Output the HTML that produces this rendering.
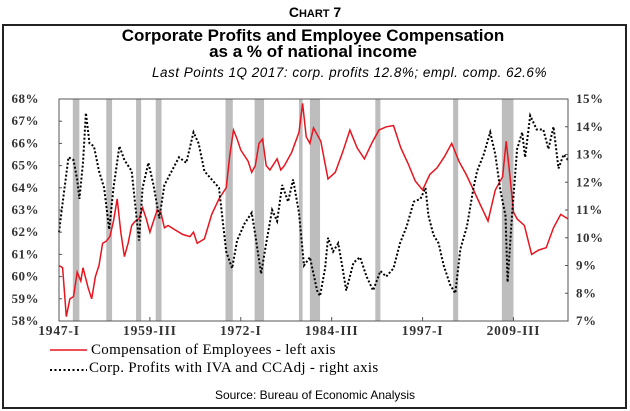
<!DOCTYPE html>
<html><head><meta charset="utf-8"><style>
html,body{margin:0;padding:0;background:#fff;}
svg{display:block;}
</style></head><body>
<svg id="c" width="630" height="411" xmlns="http://www.w3.org/2000/svg">
<text x="315" y="17" text-anchor="middle" font-family="Liberation Sans, sans-serif" font-weight="bold" font-size="14">C<tspan font-size="11">HART</tspan> 7</text>
<rect x="3" y="25" width="623" height="383" fill="none" stroke="#222" stroke-width="2"/>
<text x="313" y="41" text-anchor="middle" font-family="Liberation Sans, sans-serif" font-weight="bold" font-size="17">Corporate Profits and Employee Compensation</text>
<text x="313" y="57" text-anchor="middle" font-family="Liberation Sans, sans-serif" font-weight="bold" font-size="17">as a % of national income</text>
<text x="152" y="77" font-family="Liberation Sans, sans-serif" font-style="italic" font-size="13.5" letter-spacing="0.5">Last Points 1Q 2017: corp. profits 12.8%; empl. comp. 62.6%</text>
<g id="rec"></g>
<g id="axes"></g>
<path id="redline" fill="none" stroke="#e8141e" stroke-width="1.5"/>
<path id="blackline" fill="none" stroke="#000" stroke-width="2" stroke-dasharray="2,2"/>
<rect x="59" y="99" width="509" height="222" fill="none" stroke="#555" stroke-width="1"/>
<line x1="50" y1="350" x2="87" y2="350" stroke="#e8141e" stroke-width="1.5"/>
<text x="91" y="354" font-family="Liberation Serif, serif" font-size="15" letter-spacing="0.3">Compensation of Employees - left axis</text>
<line x1="50" y1="370" x2="87" y2="370" stroke="#000" stroke-width="2" stroke-dasharray="2,2.5"/>
<text x="89" y="372" font-family="Liberation Serif, serif" font-size="15" letter-spacing="0.3">Corp. Profits with IVA and CCAdj  - right axis</text>
<text x="315" y="399" text-anchor="middle" font-family="Liberation Sans, sans-serif" font-size="12">Source: Bureau of Economic Analysis</text>
</svg>
<script>
const compYears=[1947,1947.5,1948,1948.5,1949,1949.5,1950,1950.3,1951,1951.5,1952,1952.5,1953,1953.5,1954,1954.5,1955,1955.5,1956,1956.5,1957,1957.5,1958,1958.5,1959,1959.5,1960,1960.5,1961,1961.5,1962,1963,1964,1965,1965.5,1966,1967,1968,1969,1970,1970.5,1971,1971.5,1972,1973,1973.5,1974,1974.5,1975,1975.5,1976,1977,1977.5,1978,1979,1980,1980.5,1981,1981.5,1982,1983,1984,1985,1986,1987,1988,1989,1990,1991,1992,1993,1994,1995,1996,1997,1998,1999,2000,2001,2002,2003,2004,2005,2006,2007,2008,2008.5,2009,2009.5,2010,2011,2012,2013,2014,2015,2016,2017];
const compValues=[60.5,60.4,58.2,59.0,59.1,60.2,59.8,60.4,59.5,59.0,60.0,60.5,61.5,61.6,61.8,62.5,63.5,62.0,60.9,61.5,62.3,62.5,62.6,63.1,62.6,62.0,62.5,63.0,62.9,62.2,62.3,62.1,61.9,61.8,62.0,61.5,61.7,62.8,63.5,64.0,65.5,66.6,66.2,65.7,65.2,64.7,65.0,66.0,66.2,65.0,64.8,65.3,64.8,65.0,65.6,66.5,67.8,66.3,66.0,66.7,66.1,64.4,64.7,65.6,66.6,65.8,65.3,66.0,66.6,66.75,66.8,65.8,65.1,64.3,63.9,64.6,64.9,65.4,66.0,65.2,64.6,63.9,63.2,62.5,63.9,64.5,66.1,64.6,62.9,62.6,62.3,61.0,61.2,61.3,62.2,62.8,62.6];
const profYears=[1947,1947.5,1948.3,1949,1949.5,1949.8,1950.3,1950.7,1951.2,1951.8,1952.5,1953.2,1953.9,1954.5,1955.3,1956,1957,1958,1958.5,1959.3,1960,1960.8,1961.5,1962.5,1963.5,1964.5,1965.5,1966.2,1967,1968,1969,1970,1970.8,1971.5,1972.5,1973.5,1974,1974.8,1975.5,1976.3,1977,1977.7,1978.5,1979.2,1980,1980.7,1981.5,1982.5,1982.9,1983.6,1984,1984.7,1985.4,1986,1986.5,1987.5,1988.4,1989.3,1990.2,1991.2,1992,1993,1993.9,1994.8,1995.8,1996.7,1997.4,1997.8,1998.5,1999.2,1999.9,2000.8,2001.5,2002.2,2003.1,2004,2004.5,2005.4,2006.3,2007,2007.7,2008.4,2008.7,2009.3,2010,2010.7,2011.1,2011.8,2012.7,2013.6,2014.3,2015,2015.7,2016.4,2017];
const profValues=[10.2,11.25,12.9,12.8,12.1,11.4,12.7,14.5,13.4,13.3,12.4,11.8,10.3,11.8,13.3,12.8,12.4,9.9,11.8,12.7,11.9,10.7,11.9,12.4,12.9,12.7,13.8,13.4,12.4,12.1,11.8,9.5,8.9,9.9,10.5,10.9,10.1,8.7,9.8,11.0,10.6,11.9,11.3,12.1,10.9,9.0,9.3,8.1,7.9,8.9,10.0,9.5,9.8,8.9,8.1,9.1,9.3,8.6,8.1,8.8,8.6,8.9,9.8,10.4,11.3,11.4,11.8,10.8,10.1,9.8,9.0,8.3,8.0,9.6,10.4,11.8,12.4,13.0,13.8,13.0,11.7,10.8,8.4,10.8,13.2,13.8,12.9,14.4,13.9,13.9,13.2,14.0,12.5,13.0,12.8];
const recStart=[1948.9,1953.5,1957.6,1960.3,1969.9,1973.9,1980.0,1981.5,1990.5,2001.2,2007.9];
const recEnd=[1949.8,1954.3,1958.3,1961.1,1970.9,1975.2,1980.5,1982.9,1991.2,2001.9,2009.5];
const leftTicks=[58,59,60,61,62,63,64,65,66,67,68];
const rightTicks=[7,8,9,10,11,12,13,14,15];
const xTickYears=[1947,1959.5,1972,1984.5,1997,2009.5];
const xTickLabels=["1947-I","1959-III","1972-I","1984-III","1997-I","2009-III"];
const X0=59,X1=568,Y0=99,Y1=321;
const xs=y=>X0+(y-1947)/(2017-1947)*(X1-X0);
const yl=v=>Y1-(v-58)/10*(Y1-Y0);
const yr=v=>Y1-(v-7)/8*(Y1-Y0);
const NS='http://www.w3.org/2000/svg';
function mk(tag,attrs,parent,txt){const e=document.createElementNS(NS,tag);for(const k in attrs)e.setAttribute(k,attrs[k]);if(txt!==undefined)e.textContent=txt;parent.appendChild(e);return e;}
const rec=document.getElementById('rec'),axes=document.getElementById('axes');
recStart.forEach((s,i)=>{const r=mk('rect',{x:xs(s),y:Y0,width:Math.max(3,xs(recEnd[i])-xs(s)),height:Y1-Y0,fill:'#bdbdbd'},rec);

});
leftTicks.forEach(v=>{const t=mk('text',{x:39,y:yl(v)+4,'text-anchor':'end','font-family':'Liberation Serif, serif','font-weight':'bold','font-size':'13',fill:'#333','letter-spacing':'0.5'},axes,v+'%');


const l=mk('line',{x1:X0,x2:X0+3,y1:yl(v),y2:yl(v),stroke:'#555'},axes);

});
rightTicks.forEach(v=>{const t=mk('text',{x:576,y:yr(v)+4,'font-family':'Liberation Serif, serif','font-weight':'bold','font-size':'13',fill:'#333','letter-spacing':'0.5'},axes,v+'%');


const l=mk('line',{x1:X1-3,x2:X1,y1:yr(v),y2:yr(v),stroke:'#555'},axes);

});
xTickYears.forEach((y,i)=>{const t=mk('text',{x:xs(y),y:335,'text-anchor':'middle','font-family':'Liberation Serif, serif','font-weight':'bold','font-size':'13.5',fill:'#333','letter-spacing':'0.8'},axes,xTickLabels[i]);


const l=mk('line',{x1:xs(y),x2:xs(y),y1:Y1-4,y2:Y1,stroke:'#555'},axes);

});
document.getElementById('redline').setAttribute('d',compYears.map((y,i)=>(i?'L':'M')+xs(y).toFixed(1)+','+yl(compValues[i]).toFixed(1)).join(''));
document.getElementById('blackline').setAttribute('d',profYears.map((y,i)=>(i?'L':'M')+xs(y).toFixed(1)+','+yr(profValues[i]).toFixed(1)).join(''));
</script>
</body></html>
